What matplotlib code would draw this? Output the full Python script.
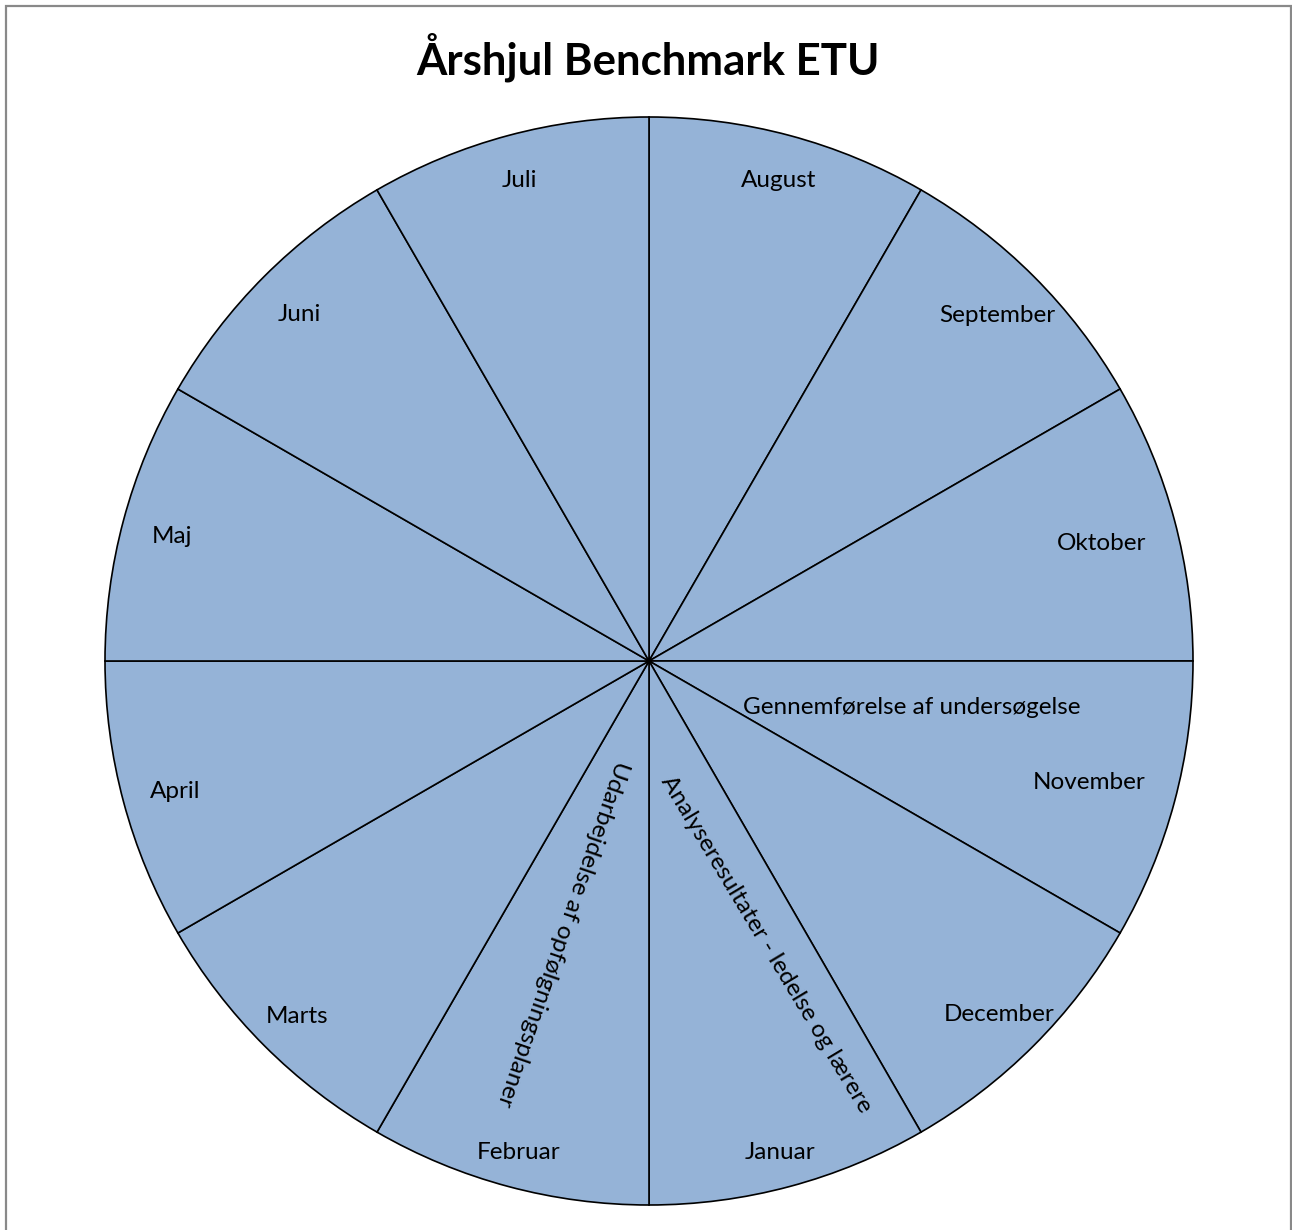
import numpy as np
import matplotlib
matplotlib.use("Agg")
import matplotlib.pyplot as plt
from matplotlib.patches import Rectangle

# Aarshjul - one slice per month, equal size, clockwise from 12 o'clock
months = ["August", "September", "Oktober", "November", "December", "Januar",
          "Februar", "Marts", "April", "Maj", "Juni", "Juli"]
shares = [1] * 12
label_r = [0.921, 0.906, 0.861, 0.838, 0.911, 0.928,
           0.928, 0.914, 0.901, 0.907, 0.909, 0.921]

# activity text boxes (px centre in the 1292x1230 picture, rotation)
notes = ["Gennemførelse af undersøgelse",
         "Udarbejdelse af opfølgningsplaner",
         "Analyseresultater - ledelse og lærere"]
note_px = [(912, 707), (563, 934), (766, 944)]
note_rot = [0, -109, -59]

W, H = 1292, 1230
cx, cy, R = 649, 661, 544

plt.rcParams['font.family'] = ['Lato', 'DejaVu Sans']

fig = plt.figure(figsize=(W / 100, H / 100), dpi=100)
fig.patch.set_facecolor("white")
fig.patches.append(Rectangle((6 / W, -0.01), (1291 - 6) / W, (H - 6) / H + 0.01,
                             transform=fig.transFigure, fill=False,
                             edgecolor="#898989", linewidth=1.6))

ax = fig.add_axes([(cx - R) / W, (H - cy - R) / H, 2 * R / W, 2 * R / H])
wedges, _ = ax.pie(shares, startangle=90, counterclock=False,
                   colors=["#95B3D7"] * 12,
                   wedgeprops=dict(edgecolor="black", linewidth=1.2))
ax.set_xlim(-1, 1)
ax.set_ylim(-1, 1)
ax.set_aspect("equal")
ax.axis("off")

# labels sit a few px lower than the plain mid-angle point
dy = -3.5 / R
for w, name, r in zip(wedges, months, label_r):
    mid = np.deg2rad((w.theta1 + w.theta2) / 2)
    ax.text(r * np.cos(mid), r * np.sin(mid) + dy, name, ha="center", va="center",
            fontsize=17.5)

for txt, (px, py), rot in zip(notes, note_px, note_rot):
    ax.text((px - cx) / R, (cy - py) / R, txt, ha="center", va="center",
            rotation=rot, rotation_mode="anchor", fontsize=17.5)

fig.text(648 / W, 1 - 57 / H, "Årshjul Benchmark ETU", ha="center", va="center",
         fontsize=31.5, fontweight="bold")

fig.savefig("out.png", dpi=100)
